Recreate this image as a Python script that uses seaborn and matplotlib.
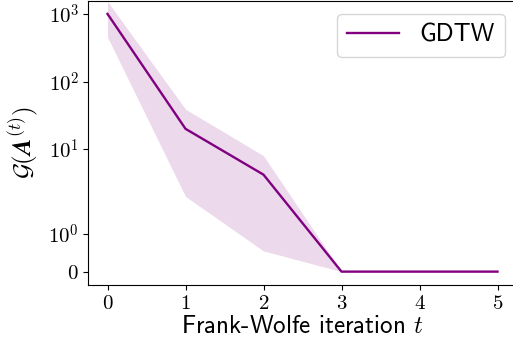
import numpy as np
import pandas as pd
import seaborn as sns
import matplotlib
matplotlib.use("Agg")
import matplotlib.pyplot as plt
from matplotlib.ticker import FixedLocator, FixedFormatter, NullLocator

# values
iterations = [0, 1, 2, 3, 4, 5]
gdtw_mean = [1000, 20, 4.2, 0, 0, 0]
gdtw_upper = [1530, 39, 8.0, 0, 0, 0]
gdtw_lower = [455, 2.0, 0.55, 0, 0, 0]

ytick_vals = [0, 1, 10, 100, 1000]
ytick_labels = [r'$0$', r'$10^{0}$', r'$10^{1}$', r'$10^{2}$', r'$10^{3}$']
xtick_labels = [r'$%d$' % i for i in iterations]

plt.rcParams['font.family'] = ['cmss10']
plt.rcParams['mathtext.fontset'] = 'cm'
plt.rcParams['axes.unicode_minus'] = False

df = pd.DataFrame({'t': iterations, 'value': gdtw_mean})

fig = plt.figure(figsize=(5.13, 3.49), dpi=100)
ax = fig.add_axes([88 / 513, 64.5 / 349, 429 / 513, 283.5 / 349])
ax.set_yscale('symlog', linthresh=2, linscale=1)

ax.fill_between(iterations, gdtw_lower, gdtw_upper, color='purple', alpha=0.15, linewidth=0)
sns.lineplot(data=df, x='t', y='value', color='purple', linewidth=1.7, label='GDTW', ax=ax)

ax.relim()
ax.autoscale_view()
ax.yaxis.set_major_locator(FixedLocator(ytick_vals))
ax.yaxis.set_major_formatter(FixedFormatter(ytick_labels))
ax.yaxis.set_minor_locator(NullLocator())
ax.xaxis.set_major_locator(FixedLocator(iterations))
ax.xaxis.set_major_formatter(FixedFormatter(xtick_labels))

ax.tick_params(labelsize=15, pad=3)
ax.set_xlabel(r'Frank-Wolfe iteration $t$', fontsize=18, labelpad=2)
ax.set_ylabel(r'$\mathcal{G}(\boldsymbol{A}^{(t)})$', fontsize=18, labelpad=5)

ax.legend(loc='upper right', fontsize=18, handlelength=2.1)

fig.savefig('out.png', dpi=100)
